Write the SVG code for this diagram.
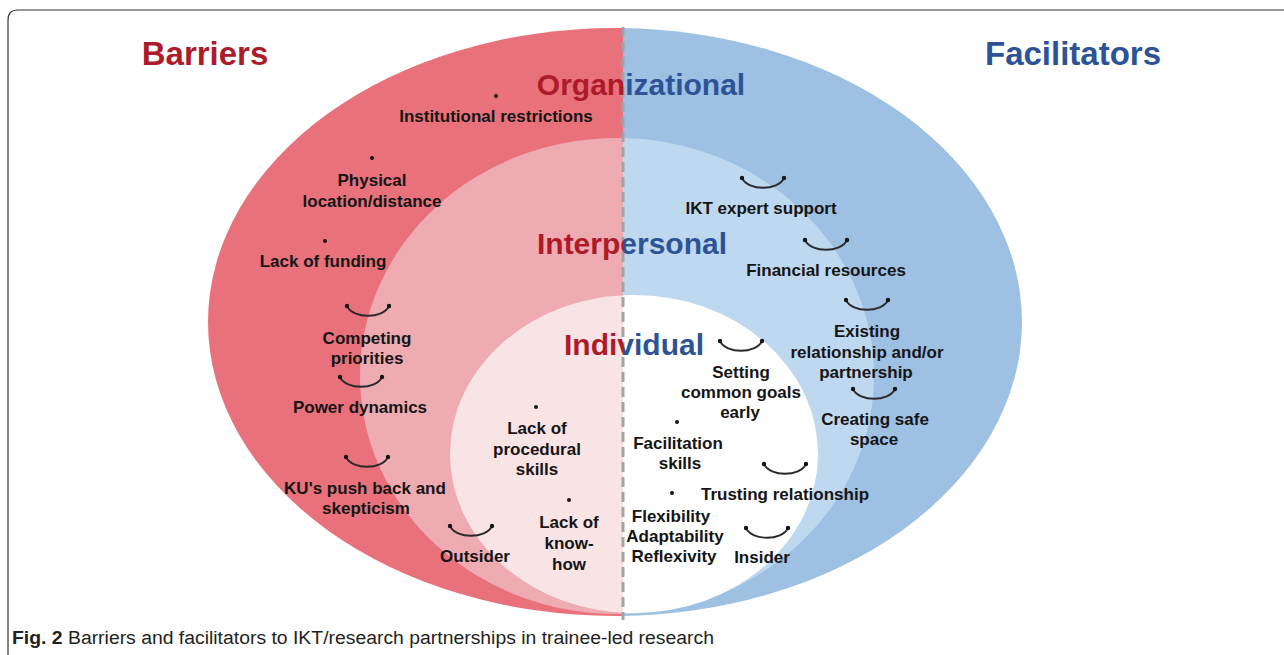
<svg xmlns="http://www.w3.org/2000/svg" xmlns:xlink="http://www.w3.org/1999/xlink" width="1284" height="655" viewBox="0 0 1284 655">
<style>
.lbl{font-family:"Liberation Sans",Arial,sans-serif;font-weight:bold;font-size:17px;fill:#151515;text-anchor:middle}
.lvl{font-family:"Liberation Sans",Arial,sans-serif;font-weight:bold;font-size:30px;text-anchor:middle;fill:url(#split)}
.head{font-family:"Liberation Sans",Arial,sans-serif;font-weight:bold;font-size:33px;text-anchor:middle}
.dot{fill:#151515}
.arc{fill:none;stroke:#2a2a2a;stroke-width:1.8}
</style>
<defs>
<clipPath id="clipL"><rect x="0" y="0" width="623" height="655"/></clipPath>
<clipPath id="clipR"><rect x="623" y="0" width="661" height="655"/></clipPath>
<linearGradient id="split" gradientUnits="userSpaceOnUse" x1="0" y1="0" x2="1284" y2="0">
<stop offset="0.4852" stop-color="#ad1b2b"/>
<stop offset="0.4852" stop-color="#2d5396"/>
</linearGradient>
<g id="smile">
<path class="arc" d="M0,0 C6,13 36,13 42,0"/>
<circle class="dot" cx="0" cy="0" r="2.2"/>
<circle class="dot" cx="42" cy="0" r="2.2"/>
</g>
</defs>
<rect x="0" y="0" width="1284" height="655" fill="#ffffff"/>
<path d="M1284,10 H18 Q8,10 8,20 V655" fill="none" stroke="#333333" stroke-width="1.2"/>

<g id="rings-barriers" clip-path="url(#clipL)">
<ellipse cx="615" cy="322" rx="407" ry="294" fill="#e8717b"/>
<ellipse cx="617" cy="376" rx="257" ry="238" fill="#eeabb2"/>
<ellipse cx="634" cy="454" rx="184" ry="159" fill="#f8e3e5"/>
</g>
<g id="rings-facilitators" clip-path="url(#clipR)">
<ellipse cx="615" cy="322" rx="407" ry="294" fill="#9dc0e3"/>
<ellipse cx="617" cy="376" rx="257" ry="238" fill="#bed8ef"/>
<ellipse cx="634" cy="454" rx="184" ry="159" fill="#ffffff"/>
</g>
<g id="connectors">
<line x1="623" y1="27" x2="623" y2="620" stroke="#a3a3a3" stroke-width="3" stroke-dasharray="10 5"/>
</g>

<g id="headings">
<text class="head" x="205" y="65" fill="#ad1b2b">Barriers</text>
<text class="head" x="1073" y="65" fill="#2d5396">Facilitators</text>
</g>
<g id="levels">
<text class="lvl" x="641" y="95">Organizational</text>
<text class="lvl" x="632" y="254">Interpersonal</text>
<text class="lvl" x="634" y="355">Individual</text>
</g>

<g id="b-institutional"><circle class="dot" cx="496" cy="96" r="2"/><text class="lbl" x="496" y="122">Institutional restrictions</text></g>
<g id="b-physical"><circle class="dot" cx="372" cy="158" r="2"/><text class="lbl" x="372" y="186">Physical</text><text class="lbl" x="372" y="207">location/distance</text></g>
<g id="b-funding"><circle class="dot" cx="325" cy="241" r="2"/><text class="lbl" x="323" y="267">Lack of funding</text></g>
<g id="b-competing"><use xlink:href="#smile" x="347" y="306"/><text class="lbl" x="367" y="344">Competing</text><text class="lbl" x="367" y="364">priorities</text></g>
<g id="b-power"><use xlink:href="#smile" x="340" y="377"/><text class="lbl" x="360" y="413">Power dynamics</text></g>
<g id="b-pushback"><use xlink:href="#smile" x="346" y="457"/><text class="lbl" x="365" y="494">KU's push back and</text><text class="lbl" x="366" y="514">skepticism</text></g>
<g id="b-outsider"><use xlink:href="#smile" x="450" y="526"/><text class="lbl" x="475" y="562">Outsider</text></g>
<g id="b-procedural"><circle class="dot" cx="536" cy="407" r="2"/><text class="lbl" x="537" y="434">Lack of</text><text class="lbl" x="537" y="455">procedural</text><text class="lbl" x="537" y="475">skills</text></g>
<g id="b-knowhow"><circle class="dot" cx="569" cy="500" r="2"/><text class="lbl" x="569" y="528">Lack of</text><text class="lbl" x="569" y="549">know-</text><text class="lbl" x="569" y="570">how</text></g>

<g id="f-ikt"><use xlink:href="#smile" x="742" y="178"/><text class="lbl" x="761" y="214">IKT expert support</text></g>
<g id="f-financial"><use xlink:href="#smile" x="805" y="240"/><text class="lbl" x="826" y="276">Financial resources</text></g>
<g id="f-existing"><use xlink:href="#smile" x="846" y="300"/><text class="lbl" x="867" y="337">Existing</text><text class="lbl" x="867" y="358">relationship and/or</text><text class="lbl" x="866" y="378">partnership</text></g>
<g id="f-safe"><use xlink:href="#smile" x="853" y="389"/><text class="lbl" x="875" y="425">Creating safe</text><text class="lbl" x="874" y="445">space</text></g>
<g id="f-goals"><use xlink:href="#smile" x="720" y="341"/><text class="lbl" x="741" y="378">Setting</text><text class="lbl" x="741" y="398">common goals</text><text class="lbl" x="740" y="418">early</text></g>
<g id="f-facilitation"><circle class="dot" cx="677" cy="422" r="2"/><text class="lbl" x="678" y="449">Facilitation</text><text class="lbl" x="680" y="469">skills</text></g>
<g id="f-trusting"><use xlink:href="#smile" x="764" y="464"/><text class="lbl" x="785" y="500">Trusting relationship</text></g>
<g id="f-flexibility"><circle class="dot" cx="672" cy="493" r="2"/><text class="lbl" x="671" y="522">Flexibility</text><text class="lbl" x="675" y="542">Adaptability</text><text class="lbl" x="674" y="562">Reflexivity</text></g>
<g id="f-insider"><use xlink:href="#smile" x="746" y="528"/><text class="lbl" x="762" y="563">Insider</text></g>

<g id="caption">
<text x="12" y="644" font-family="'Liberation Sans',Arial,sans-serif" font-size="18" fill="#231f20" textLength="702" lengthAdjust="spacingAndGlyphs"><tspan font-weight="bold">Fig. 2</tspan>  Barriers and facilitators to IKT/research partnerships in trainee-led research</text>
</g>
</svg>
